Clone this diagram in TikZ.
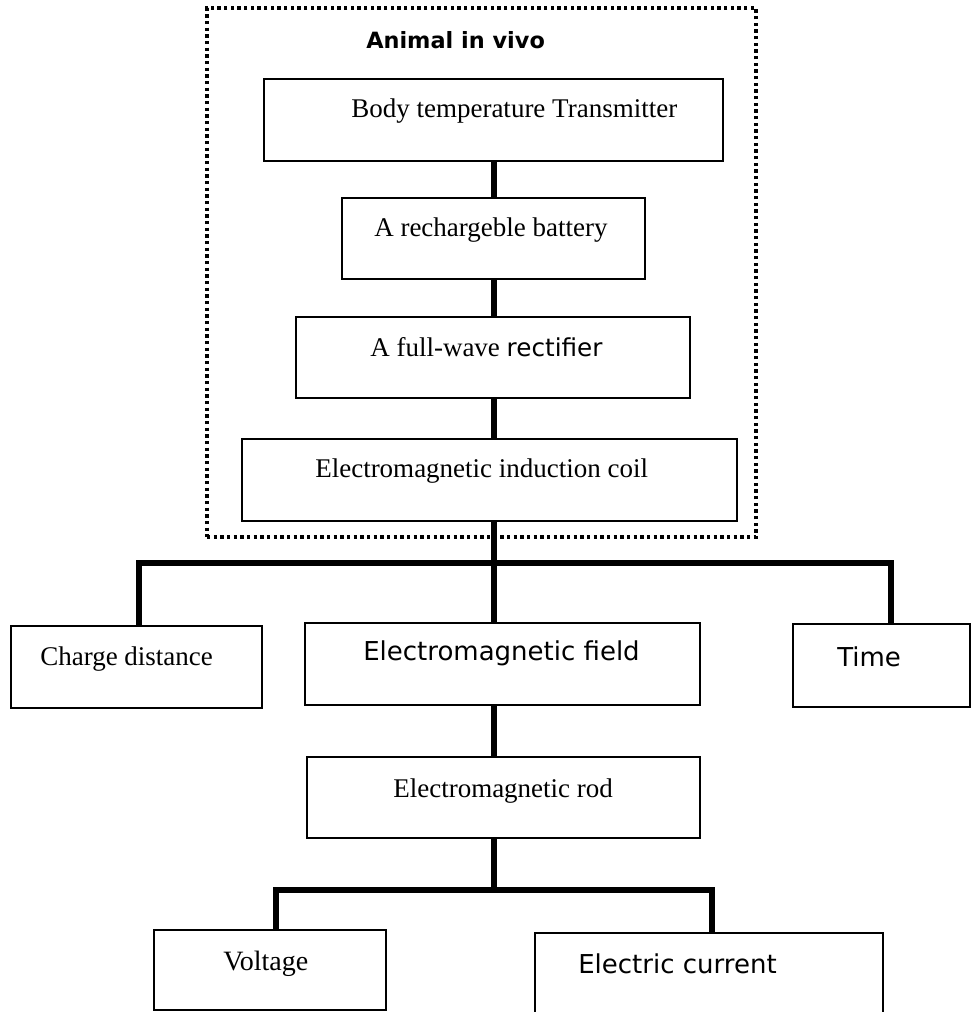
\documentclass[tikz,border=0pt]{standalone}
\usepackage{fontspec}
\setmainfont{Liberation Serif}
\newfontfamily\verdanalike{DejaVu Sans}
\newcommand{\pu}{0.75pt}
\begin{document}
\begin{tikzpicture}[x=0.75pt, y=-0.75pt]
  \tikzstyle{box} = [draw=black, line width=2pt, inner sep=0pt];
  \tikzstyle{frame_box} = [draw=black, line width=2.4pt, dash pattern=on 2.4pt off 2.6pt, inner sep=0pt];
  \tikzstyle{link} = [line width=5pt];
  \tikzstyle{serif_text} = [anchor=base west, inner sep=0pt, font=\fontsize{20.25}{24}\selectfont];
  \tikzstyle{sans_text} = [anchor=base west, inner sep=0pt, font=\verdanalike\fontsize{19.5}{23}\selectfont];
  \tikzstyle{title_text} = [anchor=base west, inner sep=0pt, font=\verdanalike\bfseries\fontsize{16.8}{20}\selectfont];

  \useasboundingbox (0, 0) rectangle (971, 1012);

  % animal in vivo
  \node[frame_box, minimum width=549*\pu, minimum height=529*\pu] (invivo) at (481.5, 272.5) {};
  \node[title_text] (invivotitle) at (366, 49) {Animal in vivo};

  \node[box, minimum width=459*\pu, minimum height=82*\pu] (body)    at (493.5, 120)   {};
  \node[box, minimum width=303*\pu, minimum height=81*\pu] (battery) at (493.5, 238.5) {};
  \node[box, minimum width=394*\pu, minimum height=81*\pu] (rectifier) at (493, 357.5) {};
  \node[box, minimum width=495*\pu, minimum height=82*\pu] (coil)    at (489.5, 480)   {};

  \node[serif_text] (bodytext)    at (351, 118) {Body temperature Transmitter};
  \node[serif_text] (batterytext) at (374, 237) {A rechargeble battery};
  \node[serif_text] (rectifiertext) at (370, 356) {A full-wave {\verdanalike\fontsize{18.5}{22}\selectfont rectifier}};
  \node[serif_text] (coiltext)    at (315, 477) {Electromagnetic induction coil};

  % outputs
  \node[box, minimum width=251*\pu, minimum height=82*\pu] (charge) at (136.5, 667) {};
  \node[box, minimum width=395*\pu, minimum height=82*\pu] (field)  at (502.5, 664) {};
  \node[box, minimum width=177*\pu, minimum height=83*\pu] (time)   at (881.5, 665.5) {};
  \node[box, minimum width=393*\pu, minimum height=81*\pu] (rod)    at (503.5, 797.5) {};
  \node[box, minimum width=232*\pu, minimum height=80*\pu] (voltage) at (270, 970) {};
  \node[box, minimum width=348*\pu, minimum height=82*\pu] (current) at (709, 974) {};

  \node[serif_text] (chargetext)  at (40, 665)  {Charge distance};
  \node[sans_text]  (fieldtext)   at (363, 660) {Electromagnetic field};
  \node[sans_text]  (timetext)    at (837, 666) {Time};
  \node[serif_text] (rodtext)     at (393, 797) {Electromagnetic rod};
  \node[serif_text, font=\fontsize{21}{25}\selectfont] (voltagetext) at (223, 970) {Voltage};
  \node[sans_text]  (currenttext) at (578, 973) {Electric current};

  % connectors
  \coordinate (trunk)     at (494, 563);
  \coordinate (leftdrop)  at (139, 563);
  \coordinate (rightdrop) at (891, 563);
  \coordinate (lowtrunk)  at (494, 890);
  \coordinate (vdrop)     at (276, 890);
  \coordinate (cdrop)     at (712, 890);

  \draw[link] (body.south -| trunk) -- (battery.north -| trunk);
  \draw[link] (battery.south -| trunk) -- (rectifier.north -| trunk);
  \draw[link] (rectifier.south -| trunk) -- (coil.north -| trunk);
  \draw[link] (coil.south -| trunk) -- (trunk);
  \draw[link] (charge.north -| leftdrop) -- (leftdrop) -- (rightdrop) -- (time.north -| rightdrop);
  \draw[link] (trunk) -- (field.north -| trunk);
  \draw[link] (field.south -| trunk) -- (rod.north -| trunk);
  \draw[link] (rod.south -| lowtrunk) -- (lowtrunk);
  \draw[link] (voltage.north -| vdrop) -- (vdrop) -- (cdrop) -- (current.north -| cdrop);
\end{tikzpicture}
\end{document}
